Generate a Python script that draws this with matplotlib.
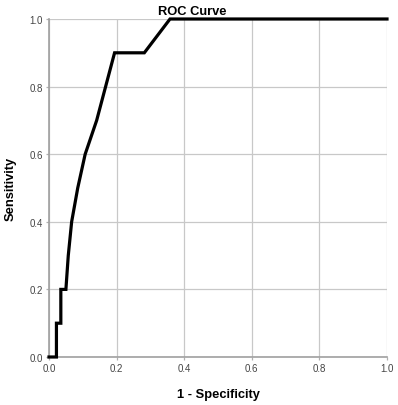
import matplotlib
matplotlib.use("Agg")
import matplotlib.pyplot as plt

fpr = [0.0, 0.022, 0.022, 0.035, 0.035, 0.050, 0.057, 0.067, 0.085, 0.107, 0.141, 0.194, 0.282, 0.358, 1.0]
tpr = [0.0, 0.0, 0.1, 0.1, 0.2, 0.2, 0.3, 0.4, 0.5, 0.6, 0.7, 0.9, 0.9, 1.0, 1.0]
ticks = [0.0, 0.2, 0.4, 0.6, 0.8, 1.0]
tick_labels = ["0.0", "0.2", "0.4", "0.6", "0.8", "1.0"]

plt.rcParams['font.family'] = ['Liberation Sans', 'DejaVu Sans']

fig = plt.figure(figsize=(3.98, 4.06), dpi=100)
ax = fig.add_axes([49/398, 48/406, 338/398, 338/406])

ax.plot(fpr, tpr, color='black', lw=2.3, solid_joinstyle='miter', zorder=3, clip_on=False)

ax.set_xlim(0, 1)
ax.set_ylim(0, 1)
ax.set_xticks(ticks)
ax.set_xticklabels(tick_labels)
ax.set_yticks(ticks)
ax.set_yticklabels(tick_labels)
ax.tick_params(length=2.5, width=0.9, color='#b0b0b0', labelsize=7, labelcolor='#444444', pad=2)
ax.grid(True, color='#c8c8c8', lw=0.9)
ax.set_axisbelow(True)
for s in ['top', 'right']:
    ax.spines[s].set_visible(False)
for s in ['left', 'bottom']:
    ax.spines[s].set_color('#a0a0a0')
    ax.spines[s].set_linewidth(1.2)

ax.set_title("ROC Curve", fontsize=9.3, fontweight='bold', pad=3.5, x=0.423)
ax.set_xlabel("1 - Specificity", fontsize=9.3, fontweight='bold', labelpad=10.5)
ax.set_ylabel("Sensitivity", fontsize=9.3, fontweight='bold', labelpad=9)

fig.savefig("out.png", dpi=100, facecolor='white')
